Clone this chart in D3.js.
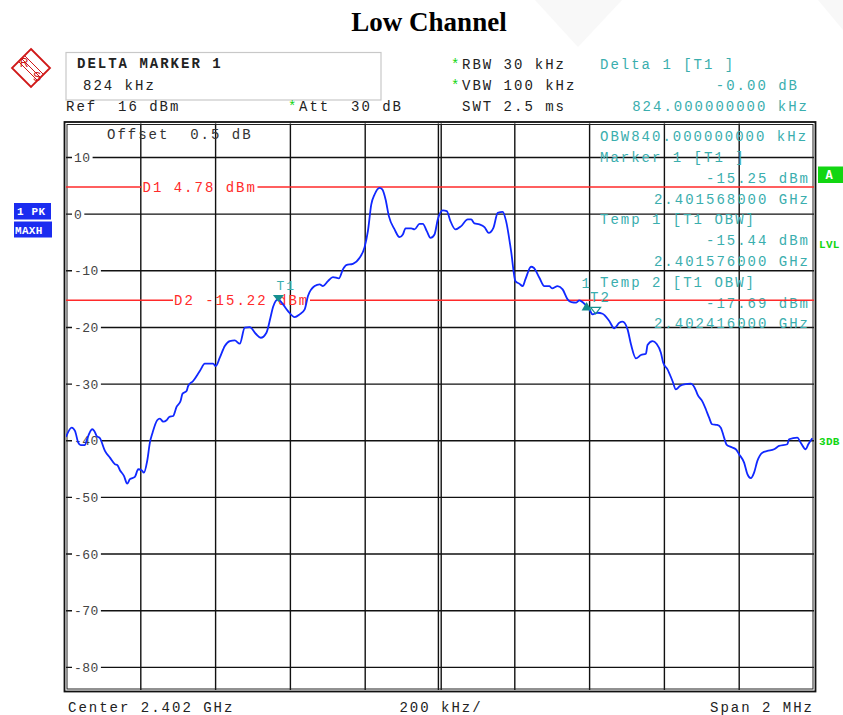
<!DOCTYPE html>
<html><head><meta charset="utf-8">
<script src="https://cdn.jsdelivr.net/npm/d3@7"></script>
<style>body{margin:0;background:#fff}svg{display:block}</style>
</head><body>
<svg id="c" width="843" height="715"></svg>
<script>
// ---- data ----
const freqKHz = [-1000,-984.8,-976.0,-967.2,-960.7,-949.3,-944.7,-929.8,-924.4,-918.0,-909.2,-895.9,-882.5,-869.1,-863.0,-855.8,-845.1,-836.3,-829.1,-815.8,-806.9,-797.9,-791.7,-782.9,-775.7,-768.5,-756.2,-749.0,-740.2,-731.1,-724.2,-713.5,-704.4,-693.7,-688.4,-677.7,-673.4,-660.1,-642.2,-628.8,-606.7,-599.5,-588.8,-575.4,-562.1,-548.8,-535.4,-522.0,-508.7,-492.7,-479.3,-464.1,-453.4,-446.4,-433.1,-419.8,-406.4,-388.5,-375.2,-361.8,-353.0,-335.1,-321.8,-312.9,-299.6,-286.3,-270.2,-259.6,-250.5,-232.9,-214.9,-201.6,-192.8,-183.7,-174.9,-161.6,-154.3,-145.5,-136.7,-121.5,-108.2,-99.3,-92.1,-76.9,-68.1,-54.7,-45.9,-35.3,-25.4,-14.7,-5.9,7.5,18.2,27.2,41.4,56.6,74.2,83.3,92.1,105.4,118.8,130.3,142.8,154.3,167.7,176.7,190.1,201.6,212.3,221.1,228.3,243.5,250.5,265.7,279.0,292.4,299.6,314.5,327.9,341.2,351.1,364.5,372.5,383.2,399.2,408.0,421.4,434.7,452.6,466.0,479.3,488.1,501.5,510.6,523.9,537.3,550.6,554.9,568.2,578.9,590.6,596.8,608.3,621.6,630.7,641.4,652.9,670.8,684.1,688.4,701.8,710.8,719.6,727.6,741.0,750.8,759.6,766.8,777.5,790.9,799.7,813.1,821.9,831.0,839.8,848.6,861.9,875.3,893.2,906.5,928.7,933.2,955.4,964.5,977.8,984.8,995.5];
const levelDbm = [-39.33,-37.69,-38.27,-40.34,-40.79,-40.79,-39.91,-37.97,-38.27,-39.15,-39.56,-41.80,-42.98,-44.14,-44.27,-45.20,-46.21,-47.57,-46.79,-46.38,-45.03,-45.20,-45.63,-43.56,-40.34,-38.57,-36.38,-36.10,-36.63,-36.38,-35.80,-35.63,-34.04,-32.98,-31.69,-31.22,-30.34,-29.45,-27.69,-26.40,-26.40,-26.81,-25.34,-23.28,-22.40,-22.28,-22.87,-20.05,-19.93,-21.11,-21.82,-20.93,-18.29,-16.40,-15.04,-15.93,-17.11,-18.17,-17.69,-16.81,-14.46,-12.70,-12.40,-12.70,-11.82,-11.11,-11.34,-9.75,-8.99,-8.77,-7.71,-5.82,-3.00,1.71,3.47,4.64,4.36,2.59,-0.35,-2.70,-4.06,-3.58,-2.52,-2.52,-2.70,-1.71,-1.71,-3.00,-4.18,-3.58,-0.93,0.65,0.53,-1.11,-2.70,-2.12,-0.93,-0.93,-1.64,-1.82,-2.29,-3.30,-2.42,0.23,0.41,-1.23,-6.53,-11.82,-12.29,-12.70,-11.52,-9.29,-9.47,-11.23,-12.70,-12.70,-13.10,-12.70,-13.28,-15.04,-15.52,-15.61,-15.22,-15.64,-16.81,-17.69,-17.41,-17.58,-18.87,-20.16,-19.17,-18.99,-20.34,-22.98,-25.45,-24.87,-24.64,-23.10,-22.40,-22.87,-24.46,-26.23,-27.39,-29.45,-30.92,-30.34,-30.04,-29.93,-31.09,-31.80,-33.10,-34.44,-35.93,-37.09,-37.21,-37.69,-39.45,-40.74,-41.09,-41.50,-42.38,-43.86,-45.91,-46.61,-45.63,-43.56,-42.10,-41.80,-41.50,-40.92,-40.62,-39.74,-39.45,-40.34,-41.50,-40.62,-39.56];
const yTickValues = [10,0,-10,-20,-30,-40,-50,-60,-70,-80];
const xGridKHz = [-800,-600,-400,-200,0,200,400,600,800];
const refLevel = 16, bottomLevel = -84;
const displayLines = [{name:"D1", value:4.78, label:"D1 4.78 dBm"},{name:"D2", value:-15.22, label:"D2 -15.22 dBm"}];
const markers = [
  {name:"T1", freq:-432, level:-15.25, type:"down-filled"},
  {name:"1",  freq:392,  level:-15.25, type:"up-filled"},
  {name:"T2", freq:416,  level:-17.69, type:"down-open"}
];
const headerLeft = ["DELTA MARKER 1","824 kHz"];
const rightPanel = ["OBW840.000000000 kHz","Marker 1 [T1 ]","-15.25 dBm","2.401568000 GHz","Temp 1 [T1 OBW]","-15.44 dBm","2.401576000 GHz","Temp 2 [T1 OBW]","-17.69 dBm","2.402416000 GHz"];

// ---- drawing ----
const svg = d3.select("#c");
const mono = "'Liberation Mono','DejaVu Sans Mono',monospace";
const teal = "#3aaeae", red = "#ff2a2a", green = "#12d612";
const X0 = 66, X1 = 814, Y0 = 123.5, Y1 = 690;
const x = d3.scaleLinear().domain([-1000,1000]).range([X0,X1]);
const y = d3.scaleLinear().domain([refLevel,bottomLevel]).range([Y0,Y1]);

function txt(xp, yp, s, o={}) {
  return svg.append("text").attr("x",xp).attr("y",yp).text(s)
    .attr("font-family", o.family||mono).attr("font-size", o.size||14)
    .attr("letter-spacing", o.ls!==undefined?o.ls:2)
    .attr("fill", o.fill||"#222").attr("font-weight", o.weight||"normal")
    .attr("text-anchor", o.anchor||"start").attr("xml:space","preserve");
}

// faint watermark
svg.append("polygon").attr("points","535,0 622,0 578,47").attr("fill","#f8f8f8");
svg.append("polygon").attr("points","818,0 843,0 843,30").attr("fill","#f8f8f8");

// title
txt(429, 31, "Low Channel", {family:"'Liberation Serif','Times New Roman',serif", size:27, weight:"bold", ls:0, anchor:"middle", fill:"#000"});

// R&S logo
const lg = svg.append("g").attr("transform","translate(31,68)");
lg.append("path").attr("d","M0,-19 L19,0 L0,19 L-19,0 Z").attr("fill","none").attr("stroke","#d01818").attr("stroke-width",1.8);
[-3,0,3].forEach(o=>lg.append("line").attr("x1",-9+o).attr("y1",-9-o).attr("x2",9+o).attr("y2",9-o).attr("stroke","#d01818").attr("stroke-width",1));
lg.append("text").attr("x",-7).attr("y",-1).text("R").attr("font-family","'Liberation Sans',sans-serif").attr("font-size",12).attr("fill","#d01818").attr("text-anchor","middle");
lg.append("text").attr("x",6).attr("y",13).text("S").attr("font-family","'Liberation Sans',sans-serif").attr("font-size",12).attr("fill","#d01818").attr("text-anchor","middle");

// header box
svg.append("rect").attr("x",66).attr("y",52.5).attr("width",315).attr("height",47.5).attr("fill","#fff").attr("stroke","#c8c8c8").attr("stroke-width",1.2);
txt(77, 68, headerLeft[0], {weight:"bold", fill:"#222"});
txt(83, 90, headerLeft[1]);
txt(66, 110.5, "Ref  16 dBm");
txt(288, 110.5, "*", {fill:green, ls:0});
txt(299, 110.5, "Att  30 dB");
txt(451, 69, "*", {fill:green, ls:0});
txt(462, 69, "RBW 30 kHz");
txt(451, 90, "*", {fill:green, ls:0});
txt(462, 90, "VBW 100 kHz");
txt(462, 111, "SWT 2.5 ms");
txt(600, 69, "Delta 1 [T1 ]", {fill:teal});
txt(799, 90, "-0.00 dB", {fill:teal, anchor:"end"});
txt(809, 111, "824.000000000 kHz", {fill:teal, anchor:"end"});

// left / right indicator boxes
svg.append("rect").attr("x",14).attr("y",203).attr("width",37).attr("height",16.5).attr("fill","#1b2cf0");
txt(17, 215, "1 PK", {size:11, ls:0.6, weight:"bold", fill:"#fff"});
svg.append("rect").attr("x",14).attr("y",221.5).attr("width",38).attr("height",16).attr("fill","#1b2cf0");
txt(15, 233.5, "MAXH", {size:11, ls:0.3, weight:"bold", fill:"#fff"});
svg.append("rect").attr("x",818).attr("y",166.5).attr("width",25).attr("height",16.5).attr("fill",green);
txt(829, 179, "A", {size:12, ls:0, weight:"bold", fill:"#fff", anchor:"middle"});
txt(819, 248, "LVL", {size:11, ls:0.3, weight:"bold", fill:green});
txt(819, 445, "3DB", {size:11, ls:0.3, weight:"bold", fill:green});

// grid
const grid = svg.append("g").attr("stroke","#111").attr("stroke-width",1.4);
xGridKHz.forEach(v=>{
  if (v===0) {
    grid.append("line").attr("x1",x(v)-1.6).attr("x2",x(v)-1.6).attr("y1",Y0).attr("y2",Y1);
    grid.append("line").attr("x1",x(v)+1.2).attr("x2",x(v)+1.2).attr("y1",Y0).attr("y2",Y1);
  } else grid.append("line").attr("x1",x(v)).attr("x2",x(v)).attr("y1",Y0).attr("y2",Y1);
});
yTickValues.forEach(v=>{
  grid.append("line").attr("x1",X0).attr("x2",X1).attr("y1",y(v)).attr("y2",y(v));
});
// y labels with white background
yTickValues.forEach(v=>{
  const s = String(v);
  const w = s.length*8.3;
  svg.append("rect").attr("x",72).attr("y",y(v)-5).attr("width",w+4).attr("height",10).attr("fill","#fff");
  txt(74, y(v)+4.6, s, {size:13, ls:0.5, fill:"#444"});
});

// frame
svg.append("rect").attr("x",X0-1.5).attr("y",Y0-1.5).attr("width",X1-X0+3).attr("height",Y1-Y0+3).attr("fill","none").attr("stroke","#111").attr("stroke-width",1.8);
svg.append("rect").attr("x",X0+1).attr("y",Y0+1).attr("width",X1-X0-2).attr("height",Y1-Y0-2).attr("fill","none").attr("stroke","#222").attr("stroke-width",1);

// offset text
txt(107, 139, "Offset  0.5 dB", {fill:"#333"});

// right panel texts
const rpY = [141,162,183,203.5,224,245,266,287,307.5,328];
rightPanel.forEach((s,i)=>{
  const isValue = [2,3,5,6,8,9].includes(i);
  if (isValue) txt(810, rpY[i], s, {fill:teal, anchor:"end"});
  else txt(600, rpY[i], s, {fill:teal});
});

// display lines D1, D2
const dlLayout = {D1:{start:142.5, end:257.5}, D2:{start:174, end:310}};
displayLines.forEach(d=>{
  const yy = y(d.value), L = dlLayout[d.name];
  svg.append("line").attr("x1",X0).attr("x2",L.start-1).attr("y1",yy).attr("y2",yy).attr("stroke",red).attr("stroke-width",1.5);
  svg.append("line").attr("x1",L.end).attr("x2",X1).attr("y1",yy).attr("y2",yy).attr("stroke",red).attr("stroke-width",1.5);
  txt(L.start, yy+4.5, d.label, {fill:red});
});

// trace
svg.append("clipPath").attr("id","pc").append("rect").attr("x",X0).attr("y",Y0).attr("width",X1-X0).attr("height",Y1-Y0);
const pts = freqKHz.map((f,i)=>[f, levelDbm[i]]);
svg.append("path").datum(pts).attr("clip-path","url(#pc)")
  .attr("d", d3.line().x(d=>x(d[0])).y(d=>y(d[1])).curve(d3.curveMonotoneX))
  .attr("fill","none").attr("stroke","#1028ff").attr("stroke-width",1.8).attr("stroke-linejoin","round");

// markers
const m = svg.append("g");
markers.forEach(mk=>{
  const mx = x(mk.freq), my = y(mk.level);
  if (mk.type==="down-filled") {
    m.append("path").attr("d",`M${mx-5.5},${my-5.5} L${mx+5.5},${my-5.5} L${mx},${my+1.5} Z`).attr("fill","#168f8f");
    txt(mx-2, my-11, mk.name, {fill:teal, size:13});
  } else if (mk.type==="up-filled") {
    m.append("path").attr("d",`M${mx-5},${my+10} L${mx+5},${my+10} L${mx},${my+1.5} Z`).attr("fill","#168f8f");
    txt(mx-5, my-13, mk.name, {fill:teal});
  } else {
    m.append("path").attr("d",`M${mx-5},${my-7} L${mx+5},${my-7} L${mx},${my-0.5} Z`).attr("fill","none").attr("stroke","#168f8f").attr("stroke-width",1.2);
    txt(mx-5.5, my-12.5, mk.name, {fill:teal});
  }
});

// bottom texts
txt(68, 712, "Center 2.402 GHz");
txt(441, 712, "200 kHz/", {anchor:"middle"});
txt(814, 712, "Span 2 MHz", {anchor:"end"});
</script>
</body></html>
